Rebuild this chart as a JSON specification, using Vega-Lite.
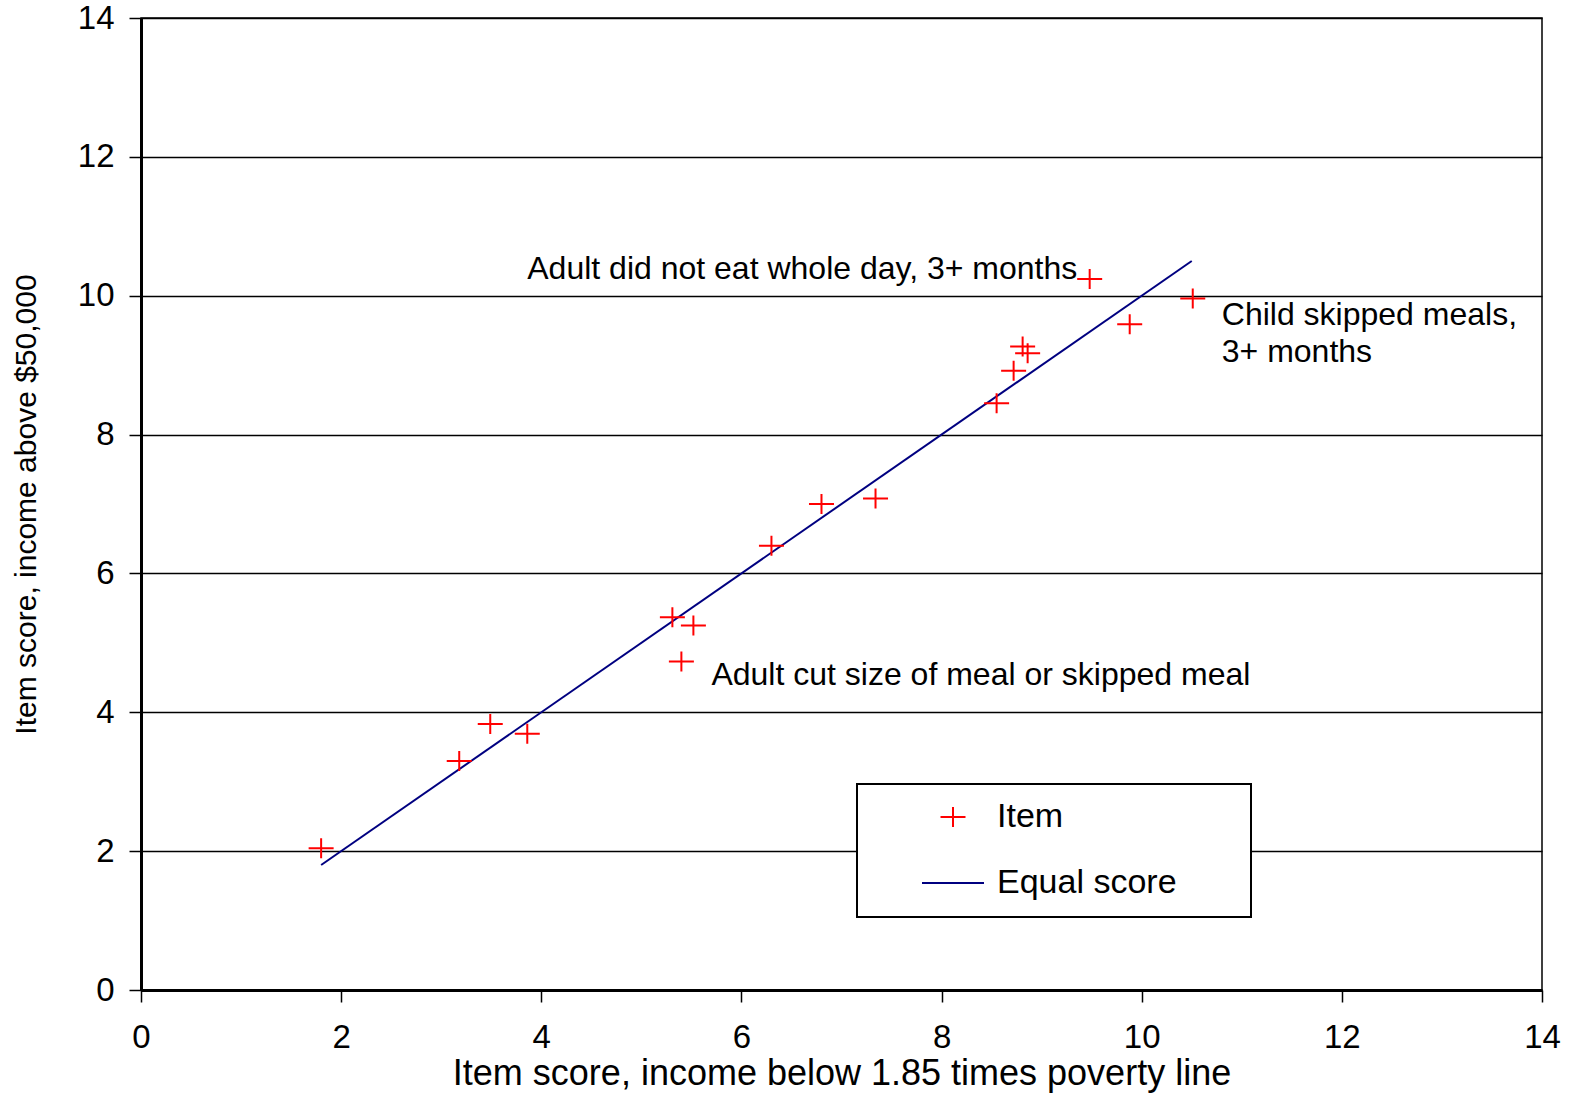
{
  "$schema": "https://vega.github.io/schema/vega-lite/v6.json",
  "width": 1401,
  "height": 972,
  "autosize": {"type": "none"},
  "padding": {"left": 141, "top": 18, "right": 33, "bottom": 106},
  "background": "white",
  "config": {
    "view": {"stroke": "black", "strokeWidth": 1.5},
    "font": "Liberation Sans",
    "axis": {
      "domainColor": "black",
      "domainWidth": 3,
      "tickColor": "black",
      "tickWidth": 1.5,
      "tickSize": 12,
      "labelFont": "Liberation Sans",
      "labelFontSize": 33,
      "labelColor": "black",
      "titleFont": "Liberation Sans",
      "titleFontWeight": "normal",
      "titleColor": "black"
    },
    "legend": {
      "padding": 17,
      "fillColor": "white",
      "strokeColor": "black",
      "strokeWidth": 2,
      "labelFont": "Liberation Sans",
      "labelFontSize": 34,
      "labelColor": "black",
      "labelOffset": 12,
      "labelLimit": 0,
      "symbolOffset": 47,
      "rowPadding": 32,
      "clipHeight": 32,
      "symbolStrokeWidth": 2
    }
  },
  "datasets": {
    "items": [
      {"x": 1.80, "y": 2.04, "series": "Item"},
      {"x": 3.18, "y": 3.30, "series": "Item"},
      {"x": 3.49, "y": 3.83, "series": "Item"},
      {"x": 3.86, "y": 3.69, "series": "Item"},
      {"x": 5.31, "y": 5.37, "series": "Item"},
      {"x": 5.52, "y": 5.25, "series": "Item"},
      {"x": 5.40, "y": 4.73, "series": "Item"},
      {"x": 6.30, "y": 6.40, "series": "Item"},
      {"x": 6.80, "y": 7.00, "series": "Item"},
      {"x": 7.34, "y": 7.08, "series": "Item"},
      {"x": 8.55, "y": 8.45, "series": "Item"},
      {"x": 8.72, "y": 8.92, "series": "Item"},
      {"x": 8.81, "y": 9.27, "series": "Item"},
      {"x": 8.86, "y": 9.17, "series": "Item"},
      {"x": 9.48, "y": 10.24, "series": "Item"},
      {"x": 9.88, "y": 9.59, "series": "Item"},
      {"x": 10.51, "y": 9.96, "series": "Item"}
    ],
    "equal": [
      {"x": 1.8, "y": 1.8, "series": "Equal score"},
      {"x": 10.5, "y": 10.5, "series": "Equal score"}
    ],
    "notes": [
      {"label": "Adult did not eat whole day, 3+ months", "x": 3.86, "y": 10.24},
      {"label": "Child skipped meals,", "x": 10.80, "y": 9.58},
      {"label": "3+ months", "x": 10.80, "y": 9.05},
      {"label": "Adult cut size of meal or skipped meal", "x": 5.70, "y": 4.39}
    ]
  },
  "encoding": {
    "x": {
      "field": "x",
      "type": "quantitative",
      "scale": {"domain": [0, 14], "nice": false},
      "axis": {
        "title": "Item score, income below 1.85 times poverty line",
        "values": [0, 2, 4, 6, 8, 10, 12, 14],
        "grid": false,
        "labelPadding": 19,
        "labelFlush": false,
        "titleFontSize": 36,
        "titlePadding": 2
      }
    },
    "y": {
      "field": "y",
      "type": "quantitative",
      "scale": {"domain": [0, 14], "nice": false},
      "axis": {
        "title": "Item score, income above $50,000",
        "values": [0, 2, 4, 6, 8, 10, 12, 14],
        "grid": true,
        "gridColor": "black",
        "gridWidth": 1.5,
        "gridOpacity": 1,
        "labelPadding": 15,
        "titleFontSize": 30,
        "titlePadding": 36
      }
    }
  },
  "layer": [
    {
      "data": {"name": "equal"},
      "mark": {"type": "line", "strokeWidth": 2},
      "encoding": {
        "color": {
          "field": "series",
          "type": "nominal",
          "scale": {"domain": ["Item", "Equal score"], "range": ["#ff0000", "#000080"]},
          "legend": {"title": null, "orient": "none", "legendX": 716, "legendY": 766, "labelExpr": "datum.label + '\u00a0\u00a0\u00a0\u00a0\u00a0\u00a0\u200b'"}
        }
      }
    },
    {
      "data": {"name": "items"},
      "mark": {"type": "point", "filled": false, "strokeWidth": 2, "opacity": 1},
      "encoding": {
        "color": {
          "field": "series",
          "type": "nominal",
          "scale": {"domain": ["Item", "Equal score"], "range": ["#ff0000", "#000080"]},
          "legend": {"title": null, "orient": "none", "legendX": 716, "legendY": 766, "labelExpr": "datum.label + '\u00a0\u00a0\u00a0\u00a0\u00a0\u00a0\u200b'"}
        },
        "shape": {
          "field": "series",
          "type": "nominal",
          "scale": {"domain": ["Item", "Equal score"], "range": ["M-1,0L1,0M0,-0.8L0,0.8", "stroke"]},
          "legend": {"title": null, "orient": "none", "legendX": 716, "legendY": 766, "labelExpr": "datum.label + '\u00a0\u00a0\u00a0\u00a0\u00a0\u00a0\u200b'"}
        },
        "size": {
          "field": "series",
          "type": "nominal",
          "scale": {"domain": ["Item", "Equal score"], "range": [625, 3844]},
          "legend": {"title": null, "orient": "none", "legendX": 716, "legendY": 766, "labelExpr": "datum.label + '\u00a0\u00a0\u00a0\u00a0\u00a0\u00a0\u200b'"}
        }
      }
    },
    {
      "data": {"name": "notes"},
      "mark": {"type": "text", "align": "left", "baseline": "alphabetic", "fontSize": 32, "font": "Liberation Sans", "color": "black"},
      "encoding": {
        "text": {"field": "label", "type": "nominal"}
      }
    }
  ]
}
